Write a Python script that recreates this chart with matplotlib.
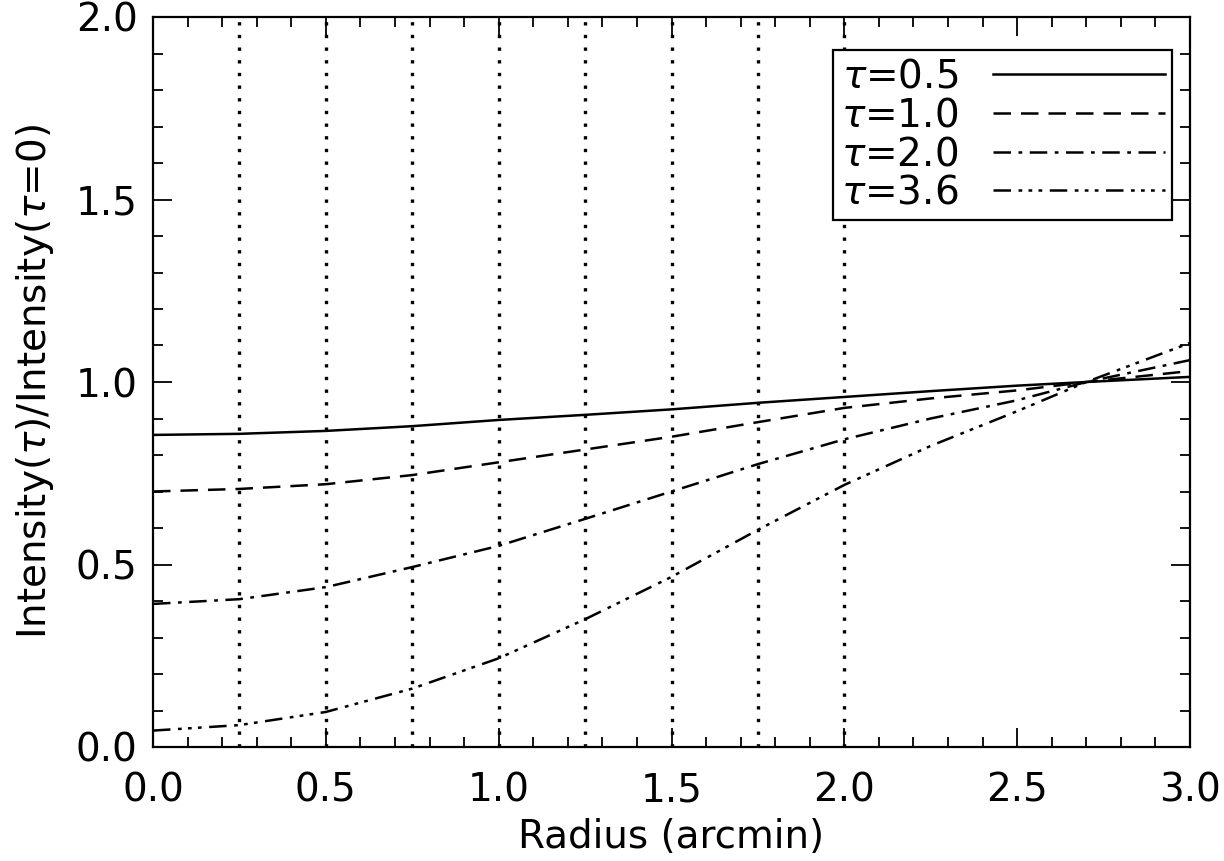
import numpy as np
import matplotlib
matplotlib.use('Agg')
import matplotlib.pyplot as plt
from matplotlib.ticker import MultipleLocator

radius = [0.0, 0.25, 0.5, 0.75, 1.0, 1.25, 1.5, 1.75, 2.0, 2.25, 2.5, 2.7, 3.0]
tau05 = [0.855, 0.858, 0.866, 0.879, 0.896, 0.910, 0.925, 0.943, 0.959, 0.975, 0.990, 1.000, 1.014]
tau10 = [0.700, 0.707, 0.720, 0.745, 0.780, 0.815, 0.850, 0.890, 0.929, 0.955, 0.977, 1.000, 1.030]
tau20 = [0.392, 0.405, 0.438, 0.493, 0.551, 0.625, 0.700, 0.775, 0.843, 0.900, 0.950, 1.000, 1.060]
tau36 = [0.045, 0.060, 0.096, 0.160, 0.243, 0.350, 0.466, 0.595, 0.718, 0.825, 0.920, 1.000, 1.107]
labels = ['0.5', '1.0', '2.0', '3.6']
vlines = [0.25, 0.5, 0.75, 1.0, 1.25, 1.5, 1.75, 2.0]

plt.rcParams['font.family'] = 'DejaVu Sans'
plt.rcParams['mathtext.fontset'] = 'dejavusans'

fig = plt.figure(figsize=(12.24, 8.61), dpi=100)
ax = fig.add_axes([153/1224, 1 - 747/861, (1190-153)/1224, (747-17)/861])

styles = ['-', (0, (7, 4)), (0, (7, 3, 1.5, 3)), (0, (7, 3, 1.5, 2.5, 1.5, 2.5, 1.5, 3))]
for ys, lab, ls in zip([tau05, tau10, tau20, tau36], labels, styles):
    ax.plot(radius, ys, color='k', lw=1.8, ls=ls, label=r'$\tau$=' + lab)

for xv in vlines:
    ax.axvline(xv, color='k', lw=2.4, ls=(0, (1, 2.8)))

ax.set_xlim(0, 3.0)
ax.set_ylim(0, 2.0)
ax.xaxis.set_major_locator(MultipleLocator(0.5))
ax.xaxis.set_minor_locator(MultipleLocator(0.1))
ax.yaxis.set_major_locator(MultipleLocator(0.5))
ax.yaxis.set_minor_locator(MultipleLocator(0.1))
ax.xaxis.set_major_formatter(plt.FormatStrFormatter('%.1f'))
ax.yaxis.set_major_formatter(plt.FormatStrFormatter('%.1f'))
ax.tick_params(which='both', direction='in', top=True, right=True, width=1.3)
ax.tick_params(which='major', length=14, labelsize=28)
ax.tick_params(axis='x', which='major', pad=18)
ax.tick_params(axis='y', which='major', pad=11)
ax.tick_params(which='minor', length=7)
for s in ax.spines.values():
    s.set_linewidth(1.6)

ax.set_xlabel('Radius (arcmin)', fontsize=28, labelpad=6)
ax.set_ylabel(r'Intensity($\tau$)/Intensity($\tau$=0)', fontsize=28)
ax.yaxis.set_label_coords(-0.094, 0.5)

leg = ax.legend(loc='upper right', bbox_to_anchor=(0.983, 0.955), fontsize=28,
                markerfirst=False, handlelength=4.4, handletextpad=0.9,
                borderpad=0.2, borderaxespad=0, labelspacing=0.02,
                fancybox=False, framealpha=1, edgecolor='k')
leg.get_frame().set_linewidth(1.6)

fig.savefig('out.png', dpi=100)
